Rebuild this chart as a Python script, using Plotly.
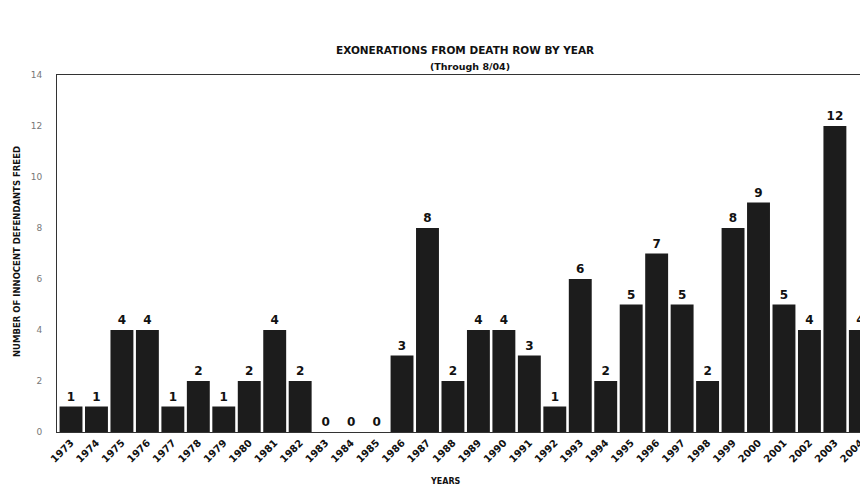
import plotly.graph_objects as go

years = [str(y) for y in range(1973, 2005)]
exonerations = [1, 1, 4, 4, 1, 2, 1, 2, 4, 2, 0, 0, 0, 3, 8, 2, 4, 4, 3, 1,
                6, 2, 5, 7, 5, 2, 8, 9, 5, 4, 12, 4]
y_ticks = [0, 2, 4, 6, 8, 10, 12, 14]

# page has an 8px body margin; target plot area in page pixels: x 57..868, y 75..432
W, H = 860, 481
ML, MT, MB, MR = 49, 67, 57, 0
PW, PH = W - ML - MR, H - MT - MB


def px(X):
    return (X - 57) / PW


def py(Y):
    return 1 - (Y - 75) / PH


fig = go.Figure()
fig.add_trace(go.Bar(
    x=years, y=exonerations,
    marker=dict(color="#1c1c1c", line=dict(width=0)),
    text=[str(v) for v in exonerations],
    textposition="outside",
    textfont=dict(family="DejaVu Sans", size=12, color="#111111", weight="bold"),
    cliponaxis=False,
))

fig.update_layout(
    width=W, height=H,
    margin=dict(l=ML, r=MR, t=MT, b=MB),
    paper_bgcolor="white", plot_bgcolor="white",
    bargap=0.1,
    showlegend=False,
    xaxis=dict(
        type="category", range=[-0.55, 31.3],
        tickangle=-45, ticks="", showgrid=False,
        tickfont=dict(family="DejaVu Sans", size=10, color="#111111", weight="bold"),
        showline=True, linecolor="#333333", linewidth=1, mirror=True,
        automargin=False,
    ),
    yaxis=dict(
        range=[0, 14], tickvals=y_ticks, showgrid=False, zeroline=False,
        tickfont=dict(family="DejaVu Sans", size=9, color="#777777"),
        showline=True, linecolor="#333333", linewidth=1, mirror=True,
        ticks="", ticklabelstandoff=12, automargin=False,
    ),
    annotations=[
        dict(text="<b>EXONERATIONS FROM DEATH ROW BY YEAR</b>", x=px(465), y=py(50),
             xref="paper", yref="paper", xanchor="center", yanchor="middle", showarrow=False,
             font=dict(family="DejaVu Sans", size=10.5, color="#111111")),
        dict(text="<b>(Through 8/04)</b>", x=px(470), y=py(66),
             xref="paper", yref="paper", xanchor="center", yanchor="middle", showarrow=False,
             font=dict(family="DejaVu Sans", size=9.5, color="#111111")),
        dict(text="<b>NUMBER OF INNOCENT DEFENDANTS FREED</b>", x=px(17), y=py(252),
             xref="paper", yref="paper", xanchor="center", yanchor="middle",
             textangle=-90, showarrow=False,
             font=dict(family="DejaVu Sans", size=8.5, color="#111111")),
        dict(text="<b>YEARS</b>", x=px(445), y=py(481),
             xref="paper", yref="paper", xanchor="center", yanchor="middle", showarrow=False,
             font=dict(family="DejaVu Sans", size=8, color="#111111")),
    ],
)

fig.write_html("out.html")
